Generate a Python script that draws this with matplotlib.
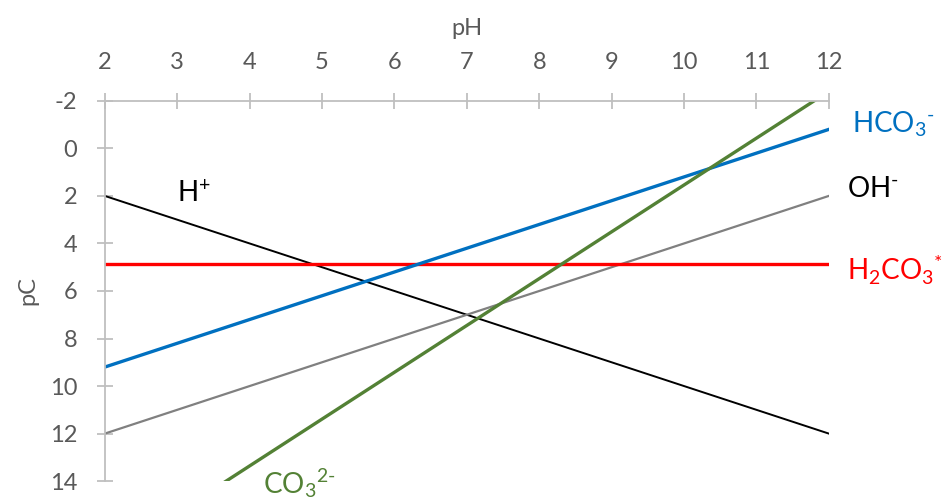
import matplotlib
matplotlib.use("Agg")
import matplotlib.pyplot as plt

plt.rcParams['font.family'] = ['Lato', 'DejaVu Sans']
plt.rcParams['mathtext.fontset'] = 'custom'
plt.rcParams['mathtext.rm'] = 'Lato'
plt.rcParams['mathtext.it'] = 'Lato:italic'
plt.rcParams['mathtext.bf'] = 'Lato:bold'
plt.rcParams['axes.unicode_minus'] = False

# endpoints (pH 2 and pH 12)
ph = [2, 12]
pc_h = [2, 12]
pc_oh = [12, 2]
pc_h2co3 = [4.88, 4.88]
pc_hco3 = [9.2, -0.8]
pc_co3 = [17.3, -2.4]

x_ticks = list(range(2, 13))
y_ticks = list(range(-2, 15, 2))

grey = '#595959'
axis_col = '#BFBFBF'

fig = plt.figure(figsize=(9.45, 4.97), dpi=100)
ax = fig.add_axes([0.111, 0.032, 0.766, 0.765])

ax.plot(ph, pc_h, color='black', lw=1.4)
ax.plot(ph, pc_oh, color='#808080', lw=1.6)
ax.plot(ph, pc_h2co3, color='#FF0000', lw=2.4)
ax.plot(ph, pc_hco3, color='#0070C0', lw=2.4)
ax.plot(ph, pc_co3, color='#538135', lw=2.4)

ax.set_xlim(2, 12)
ax.set_ylim(14, -2)
ax.set_xticks(x_ticks)
ax.set_yticks(y_ticks)
ax.xaxis.tick_top()
ax.xaxis.set_label_position('top')

for s in ['right', 'bottom']:
    ax.spines[s].set_visible(False)
for s in ['top', 'left']:
    ax.spines[s].set_color(axis_col)
    ax.spines[s].set_linewidth(1.3)

ax.tick_params(axis='both', direction='inout', length=12, width=1.3,
               color=axis_col, labelcolor=grey, labelsize=17)
ax.tick_params(axis='x', pad=14)
ax.tick_params(axis='y', pad=14)

ax.set_xlabel('pH', fontsize=17, color=grey, labelpad=12)
ax.set_ylabel('pC', fontsize=17, color=grey, labelpad=8)

lab = 20
ax.text(2.99, 1.9, r'$\mathregular{H^{+}}$', fontsize=lab, color='black',
        va='center', ha='left')
ax.text(12.32, -1.0, r'$\mathregular{HCO_3{}^{\text{-}}}$', fontsize=lab,
        color='#0070C0', va='center', ha='left', clip_on=False)
ax.text(12.25, 1.7, r'$\mathregular{OH^{\text{-}}}$', fontsize=lab, color='black',
        va='center', ha='left', clip_on=False)
ax.text(12.25, 5.1, r'$\mathregular{H_2CO_3{}^{*}}$', fontsize=lab,
        color='#FF0000', va='center', ha='left', clip_on=False)
ax.text(4.18, 14.1, r'$\mathregular{CO_3{}^{2\text{-}}}$', fontsize=lab,
        color='#538135', va='center', ha='left', clip_on=False)

fig.savefig('out.png', dpi=100)
